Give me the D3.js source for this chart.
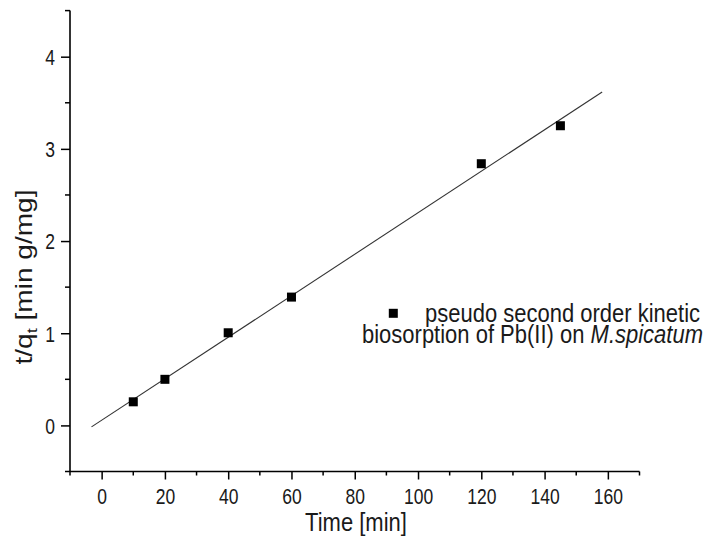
<!DOCTYPE html>
<html>
<head>
<meta charset="utf-8">
<script src="https://cdn.jsdelivr.net/npm/d3@7"></script>
<style>
  html, body { margin: 0; padding: 0; background: #fff; }
  svg { display: block; font-family: "Liberation Sans", Arial, sans-serif; }
</style>
</head>
<body>
<svg id="chart" width="715" height="537"></svg>
<script>
// Pseudo second order kinetic data: t/q_t versus contact time
const timeMin = [10, 20, 40, 60, 120, 145];
const tOverQ = [0.256, 0.50, 1.005, 1.392, 2.839, 3.251];

// Linear fit t/q_t = intercept + slope * t, drawn over this time span
const fitIntercept = 0.0561;
const fitSlope = 0.02251;
const fitSpan = [-3.2, 158.2];

const xMajorTicks = [0, 20, 40, 60, 80, 100, 120, 140, 160];
const xMinorTicks = [-10, 10, 30, 50, 70, 90, 110, 130, 150, 170];
const yMajorTicks = [0, 1, 2, 3, 4];
const yMinorTicks = [-0.5, 0.5, 1.5, 2.5, 3.5, 4.5];

const legendLine1 = "pseudo second order kinetic";
const legendLine2 = "biosorption of Pb(II) on ";
const legendSpecies = "M.spicatum";

// glyphs are drawn somewhat taller than wide
const tickStretch = 1.22;
const textStretch = 1.14;
const ink = "#1a1a1a";

const svg = d3.select("#chart");

const x = d3.scaleLinear().domain([-10, 170]).range([70, 639.5]);
const y = d3.scaleLinear().domain([-0.5, 4.5]).range([471.5, 10.6]);

// x axis: major ticks labelled, minor ticks short
const xAxisG = svg.append("g").attr("transform", `translate(0,${y(-0.5)})`);
xAxisG.call(d3.axisBottom(x).tickValues(xMajorTicks).tickSize(8).tickFormat(d3.format("d")));
xAxisG.call(g => g.selectAll(".minor").data(xMinorTicks).join("line")
  .attr("class", "minor").attr("x1", d => x(d)).attr("x2", d => x(d))
  .attr("y1", 0).attr("y2", 4).attr("stroke", "#000").attr("stroke-width", 1.5));

// y axis
const yAxisG = svg.append("g").attr("transform", `translate(${x(-10)},0)`);
yAxisG.call(d3.axisLeft(y).tickValues(yMajorTicks).tickSize(9).tickFormat(d3.format("d")));
yAxisG.call(g => g.selectAll(".minor").data(yMinorTicks).join("line")
  .attr("class", "minor").attr("y1", d => y(d)).attr("y2", d => y(d))
  .attr("x1", 0).attr("x2", -5).attr("stroke", "#000").attr("stroke-width", 1.5));

[xAxisG, yAxisG].forEach(g => {
  g.select(".domain").attr("stroke", "#000").attr("stroke-width", 1.6);
  g.selectAll(".tick line").attr("stroke", "#000").attr("stroke-width", 1.5);
  g.selectAll(".tick text").attr("fill", ink).attr("font-size", 17.5)
    .attr("font-family", "'Liberation Sans', Arial, sans-serif")
    .attr("x", 0).attr("y", 0).attr("dy", null);
});
xAxisG.selectAll(".tick text")
  .attr("transform", `translate(0,${503.5 - y(-0.5)}) scale(1,${tickStretch})`);
yAxisG.selectAll(".tick text")
  .attr("transform", `translate(-15,7.8) scale(1,${tickStretch})`);

// plain axis lines without the d3 end caps
xAxisG.select(".domain").attr("d", `M${x(-10)},0H${x(170)}`);
yAxisG.select(".domain").attr("d", `M0,${y(4.5)}V${y(-0.5)}`);

// fit line
const fitLine = d3.line().x(d => x(d)).y(d => y(fitIntercept + fitSlope * d));
svg.append("path").datum(fitSpan).attr("d", fitLine)
  .attr("fill", "none").attr("stroke", "#333").attr("stroke-width", 1.1);

// data points
const side = 9;
svg.append("g").selectAll("rect").data(timeMin).join("rect")
  .attr("x", (d) => x(d) - side / 2)
  .attr("y", (d, i) => y(tOverQ[i]) - side / 2)
  .attr("width", side).attr("height", side).attr("fill", "#000");

// axis titles
svg.append("text").attr("transform", `translate(356,531) scale(1,${textStretch})`)
  .attr("text-anchor", "middle").attr("font-size", 22).attr("fill", ink).text("Time [min]");

const yTitle = svg.append("text")
  .attr("transform", `translate(32,277) rotate(-90) scale(${tickStretch},1)`)
  .attr("text-anchor", "middle").attr("font-size", 23).attr("fill", ink);
yTitle.append("tspan").text("t/q");
yTitle.append("tspan").attr("font-size", 15).attr("dy", 5).text("t");
yTitle.append("tspan").attr("dy", -5).text(" [min g/mg]");

// legend: symbol plus a two-line caption
const legend = svg.append("g");
legend.append("rect").attr("x", 393.3 - side / 2).attr("y", 313.3 - side / 2)
  .attr("width", side).attr("height", side).attr("fill", "#000");
const caption = legend.append("text")
  .attr("transform", `translate(0,322) scale(1,${textStretch})`)
  .attr("font-size", 22).attr("fill", ink);
caption.append("tspan").attr("x", 425).attr("y", 0).text(legendLine1);
caption.append("tspan").attr("x", 362).attr("y", 20.5 / textStretch).text(legendLine2);
caption.append("tspan").attr("font-style", "italic").text(legendSpecies);
</script>
</body>
</html>
